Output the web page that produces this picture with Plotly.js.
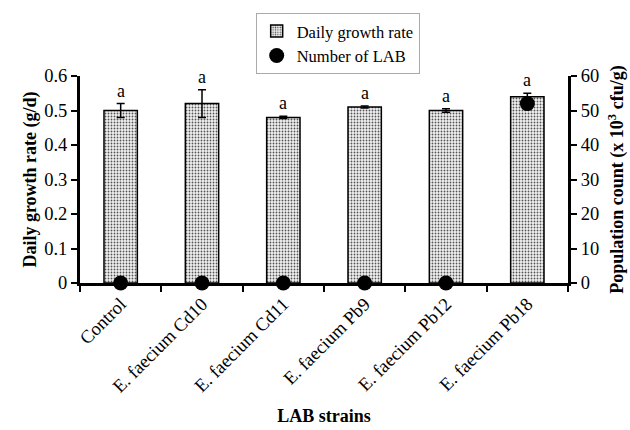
<!DOCTYPE html>
<html>
<head>
<meta charset="utf-8">
<script src="https://cdn.plot.ly/plotly-3.0.1.min.js"></script>
<style>html,body{margin:0;padding:0;background:#fff;}#chart{width:630px;height:430px;}</style>
</head>
<body>
<div id="chart"></div>
<script>
const strains = ["Control", "E. faecium Cd10", "E. faecium Cd11", "E. faecium Pb9", "E. faecium Pb12", "E. faecium Pb18"];
const growthRate = [0.50, 0.52, 0.48, 0.51, 0.50, 0.54];
const growthErr = [0.02, 0.04, 0.003, 0.003, 0.005, 0.01];
const labCount = [0, 0, 0, 0, 0, 52];
const sigLetters = ["a", "a", "a", "a", "a", "a"];

const serif = "Liberation Serif, Times New Roman, serif";

const bars = {
  type: "bar",
  name: "Daily growth rate",
  x: strains,
  y: growthRate,
  width: 0.41,
  marker: {
    color: "#ffffff",
    line: {color: "#000", width: 1.5},
    pattern: {shape: ".", fgcolor: "#555", bgcolor: "#f2f2f2", size: 3, solidity: 0.3}
  },
  error_y: {type: "data", array: growthErr, visible: true, color: "#000", thickness: 1.5, width: 4},
  cliponaxis: false
};

const dots = {
  type: "scatter",
  mode: "markers",
  name: "Number of LAB",
  x: strains,
  y: labCount,
  yaxis: "y2",
  marker: {color: "#000", size: 15, symbol: "circle"},
  cliponaxis: false
};

const annotations = strains.map((s, i) => ({
  x: s, y: growthRate[i] + growthErr[i], xref: "x", yref: "y",
  text: sigLetters[i], showarrow: false, yanchor: "bottom", yshift: 1,
  font: {family: serif, size: 18, color: "#000"}
}));

const layout = {
  width: 630, height: 430,
  margin: {l: 80, r: 62, t: 76, b: 147},
  paper_bgcolor: "#fff", plot_bgcolor: "#fff",
  font: {family: serif, size: 16, color: "#000"},
  showlegend: true,
  legend: {
    x: 0.36, y: 1.305, xanchor: "left", yanchor: "top",
    bordercolor: "#aaa", borderwidth: 1, bgcolor: "#fff",
    font: {family: serif, size: 16.5, color: "#000"},
    itemwidth: 30, tracegroupgap: 4
  },
  xaxis: {
    type: "category",
    showline: true, linecolor: "#000", linewidth: 3,
    ticks: "outside", tickson: "boundaries", ticklen: 6, tickwidth: 2, tickcolor: "#000",
    tickangle: -45, tickfont: {family: serif, size: 18.5},
    showgrid: false, zeroline: false,
    title: {text: "<b>LAB strains</b>", font: {family: serif, size: 18}, standoff: 14}
  },
  yaxis: {
    range: [0, 0.6], dtick: 0.1,
    showline: true, linecolor: "#000", linewidth: 3,
    ticks: "outside", ticklen: 6, tickwidth: 2, tickcolor: "#000",
    showgrid: false, zeroline: false,
    tickfont: {family: serif, size: 18.5},
    title: {text: "<b>Daily growth rate (g/d)</b>", font: {family: serif, size: 18}, standoff: 3}
  },
  yaxis2: {
    range: [0, 60], dtick: 10, overlaying: "y", side: "right",
    showline: true, linecolor: "#000", linewidth: 3,
    ticks: "outside", ticklen: 6, tickwidth: 2, tickcolor: "#000",
    showgrid: false, zeroline: false,
    tickfont: {family: serif, size: 18.5},
    title: {text: "<b>Population count (x 10<sup>3</sup> cfu/g)</b>", font: {family: serif, size: 18}, standoff: 13}
  },
  annotations: annotations
};

Plotly.newPlot("chart", [bars, dots], layout, {displayModeBar: false, staticPlot: true});
</script>
</body>
</html>
